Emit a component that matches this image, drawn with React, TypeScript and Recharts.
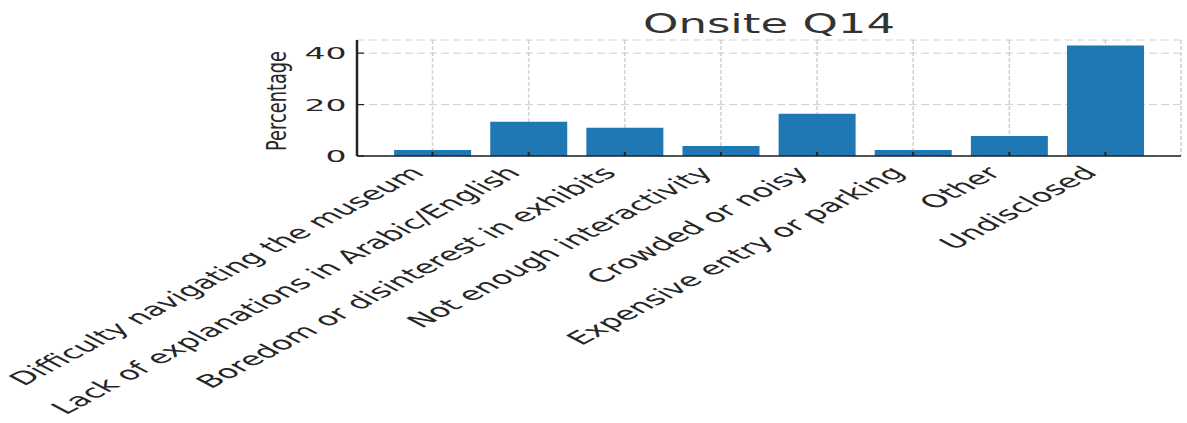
import React from 'react';
import { BarChart, Bar, XAxis, YAxis, CartesianGrid } from 'recharts';

const categories = [
  'Difficulty navigating the museum',
  'Lack of explanations in Arabic/English',
  'Boredom or disinterest in exhibits',
  'Not enough interactivity',
  'Crowded or noisy',
  'Expensive entry or parking',
  'Other',
  'Undisclosed',
];
const percentages = [2.34, 13.28, 10.94, 3.91, 16.41, 2.34, 7.81, 42.97];
const yTicks = [0, 20, 40];
const titleText = 'Onsite Q14';
const yLabelText = 'Percentage';

const data = categories.map((c, i) => ({ category: c, value: percentages[i] }));

const FONT = 'DejaVu Sans';
const SX = 1.89;

const XTick = (props: any) => {
  const { x, y, payload } = props;
  return (
    <g>
      <line x1={x} x2={x} y1={y} y2={y - 4} stroke="#222" strokeWidth={2} />
      <text
        transform={`translate(${x - 7},${y + 18}) scale(${SX},1) rotate(-45)`}
        textAnchor="end"
        fontFamily={FONT}
        fontSize={18}
        fill="#262626"
      >
        {payload.value}
      </text>
    </g>
  );
};

const YTick = (props: any) => {
  const { x, y, payload } = props;
  return (
    <g>
      <line x1={x} x2={x + 7} y1={y} y2={y} stroke="#222" strokeWidth={1.2} />
      <text
        transform={`translate(${x - 10.5},${y + 6}) scale(2,1)`}
        textAnchor="end"
        fontFamily={FONT}
        fontSize={16.5}
        fill="#262626"
      >
        {payload.value}
      </text>
    </g>
  );
};

const YLabel = (props: any) => {
  const vb = props.viewBox || { x: 0, y: 40, width: 357, height: 116 };
  const cx = vb.x + vb.width - 71;
  const cy = vb.y + vb.height / 2 + 3;
  return (
    <text
      transform={`translate(${cx},${cy}) scale(1.45,1) rotate(-90)`}
      textAnchor="middle"
      fontFamily={FONT}
      fontSize={17.8}
      fill="#262626"
    >
      {yLabelText}
    </text>
  );
};

export default function App() {
  return (
    <div style={{ position: 'absolute', left: 0, top: 0, width: 1187, height: 423, background: '#fff' }}>
      <BarChart
        width={1187}
        height={423}
        data={data}
        margin={{ top: 40, right: 6, bottom: 0, left: 0 }}
        barCategoryGap="10%"
      >
        <CartesianGrid
          horizontal
          vertical={false}
          stroke="#b0b0b0"
          strokeOpacity={0.6}
          strokeDasharray="8 4"
        />
        <XAxis
          dataKey="category"
          height={267}
          interval={0}
          padding={{ left: 27.5, right: 27.5 }}
          tickSize={0}
          tickMargin={0}
          tickLine={false}
          tick={<XTick />}
          axisLine={{ stroke: '#222', strokeWidth: 1.3 }}
        />
        <YAxis
          width={357}
          domain={[0, 45.12]}
          ticks={yTicks}
          tickSize={0}
          tickMargin={0}
          tickLine={false}
          tick={<YTick />}
          axisLine={{ stroke: '#222', strokeWidth: 2.5 }}
          label={{ content: <YLabel /> }}
        />
        <Bar dataKey="value" fill="#1f77b4" isAnimationActive={false} />
        <CartesianGrid
          horizontal={false}
          vertical
          stroke="#b0b0b0"
          strokeOpacity={0.55}
          strokeWidth={1.6}
          strokeDasharray="4 2"
        />
        <text
          transform={`translate(769,33) scale(1.73,1)`}
          textAnchor="middle"
          fontFamily={FONT}
          fontSize={26}
          fill="#333"
        >
          {titleText}
        </text>
      </BarChart>
    </div>
  );
}
